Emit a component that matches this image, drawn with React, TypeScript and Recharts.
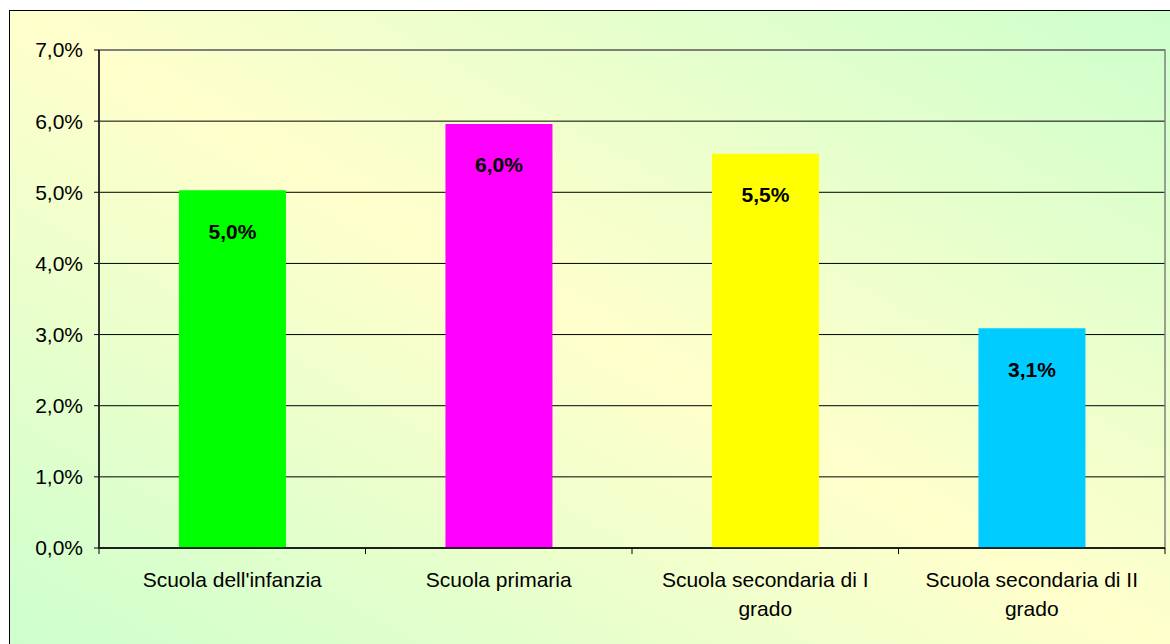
import { BarChart, Bar, Cell, XAxis, YAxis, CartesianGrid, ReferenceArea, LabelList } from "recharts";

const categories = [
  "Scuola dell'infanzia",
  "Scuola primaria",
  "Scuola secondaria di I grado",
  "Scuola secondaria di II grado",
];
const values = [5.03, 5.96, 5.54, 3.09];
const barColors = ["#00FF00", "#FF00FF", "#FFFF00", "#00CCFF"];
const yTicks = [0, 1, 2, 3, 4, 5, 6, 7];

const data = categories.map((name, i) => ({ name, value: values[i] }));

const W = 1170;
const H = 644;
const margin = { top: 50, right: 5, left: 19, bottom: 36 };
const Y_AXIS_W = 80;
const X_AXIS_H = 60;
const PLOT_BOTTOM = H - margin.bottom - X_AXIS_H;
const BAND = (W - margin.left - Y_AXIS_W - margin.right) / categories.length;
const FONT = "'Liberation Sans', Arial, sans-serif";
const TICK_FONT = `21px ${FONT}`;

const pct = (v: number) => v.toFixed(1).replace(".", ",") + "%";

// greedy word wrap using canvas text metrics
function wrap(text: string, maxWidth: number): string[] {
  const ctx = document.createElement("canvas").getContext("2d");
  if (!ctx) return [text];
  ctx.font = TICK_FONT;
  const lines: string[] = [];
  let cur = "";
  for (const word of text.split(" ")) {
    const next = cur ? cur + " " + word : word;
    if (cur && ctx.measureText(next).width > maxWidth) {
      lines.push(cur);
      cur = word;
    } else {
      cur = next;
    }
  }
  if (cur) lines.push(cur);
  return lines;
}

function CategoryTick(props: any) {
  const { x, payload, index } = props;
  const half = BAND / 2;
  const lines = wrap(String(payload.value), 235);
  return (
    <g>
      <line x1={x - half} y1={PLOT_BOTTOM} x2={x - half} y2={PLOT_BOTTOM + 6} stroke="#000" />
      {index === categories.length - 1 && (
        <line x1={x + half} y1={PLOT_BOTTOM} x2={x + half} y2={PLOT_BOTTOM + 6} stroke="#000" />
      )}
      <text x={x} y={PLOT_BOTTOM + 39} textAnchor="middle" fontSize={21} fontFamily={FONT} fill="#000">
        {lines.map((l, i) => (
          <tspan key={i} x={x} dy={i === 0 ? 0 : 29}>
            {l}
          </tspan>
        ))}
      </text>
    </g>
  );
}

function ValueLabel(props: any) {
  const { x, y, width, value } = props;
  return (
    <text
      x={x + width / 2}
      y={y + 41}
      textAnchor="middle"
      dominantBaseline="central"
      fontSize={21}
      fontWeight="bold"
      fontFamily={FONT}
      fill="#000"
    >
      {pct(value)}
    </text>
  );
}

export default function App() {
  return (
    <div style={{ position: "absolute", left: 0, top: 0, width: W, height: H, overflow: "hidden", background: "#fff" }}>
      <div
        style={{
          position: "absolute",
          left: 9,
          top: 10,
          width: W,
          height: H,
          border: "1px solid #000",
          background: "linear-gradient(to top right, #CCFFCC 0%, #FFFFCC 50%, #CCFFCC 100%)",
        }}
      />
      <div style={{ position: "absolute", left: 0, top: 0 }}>
        <BarChart width={W} height={H} data={data} margin={margin} barCategoryGap="30%">
          <CartesianGrid vertical={false} stroke="#000" />
          <XAxis
            dataKey="name"
            height={X_AXIS_H}
            interval={0}
            axisLine={{ stroke: "#000", strokeWidth: 1.5 }}
            tickLine={false}
            tick={<CategoryTick />}
          />
          <YAxis
            width={Y_AXIS_W}
            domain={[0, 7]}
            ticks={yTicks}
            tickFormatter={pct}
            axisLine={{ stroke: "#333", strokeWidth: 2 }}
            tickLine={{ stroke: "#000" }}
            tickSize={5}
            tickMargin={11}
            tick={{ fontSize: 21, fontFamily: FONT, fill: "#000" }}
          />
          <ReferenceArea y1={0} y2={7} fill="none" stroke="#808080" strokeWidth={1.5} ifOverflow="visible" />
          <Bar dataKey="value" isAnimationActive={false}>
            {data.map((d, i) => (
              <Cell key={d.name} fill={barColors[i]} />
            ))}
            <LabelList dataKey="value" content={<ValueLabel />} />
          </Bar>
        </BarChart>
      </div>
    </div>
  );
}
